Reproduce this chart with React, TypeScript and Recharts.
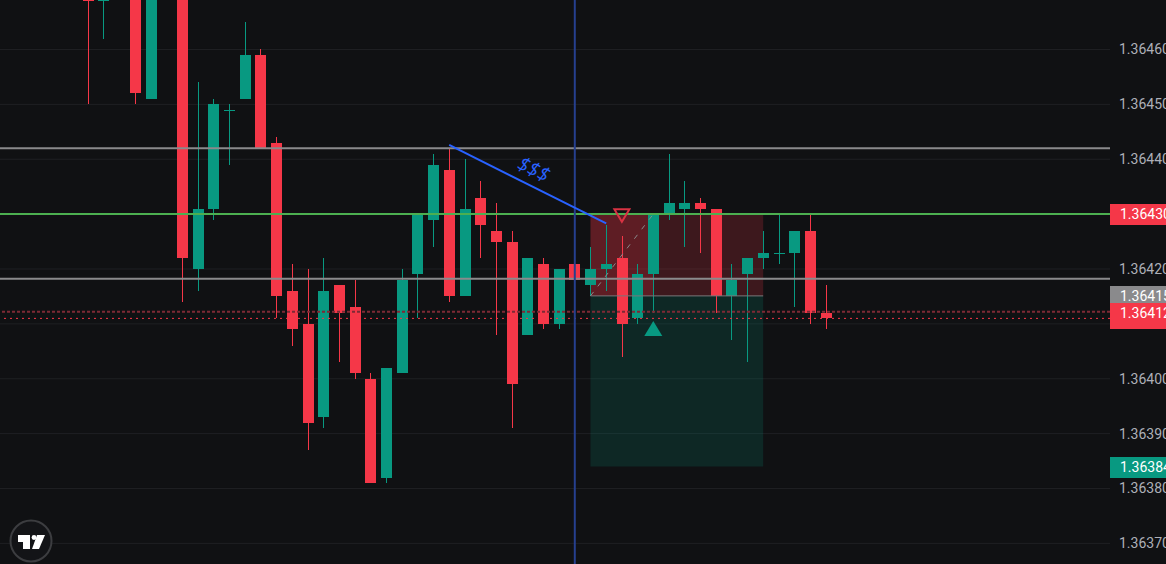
import React from 'react'
import { Bar, CartesianGrid, ComposedChart, ReferenceArea, ReferenceDot, ReferenceLine, XAxis, YAxis } from 'recharts'

const opens = [1.36476, 1.364688, 1.36486, 1.36478, 1.36451, 1.3648, 1.36488, 1.3642, 1.36431, 1.36449, 1.36451, 1.36459, 1.36443, 1.36416, 1.3641, 1.36393, 1.36417, 1.36413, 1.364, 1.36382, 1.36401, 1.36419, 1.36429, 1.36438, 1.36415, 1.36433, 1.36427, 1.36425, 1.36408, 1.36421, 1.3641, 1.36421, 1.36417, 1.3642, 1.36422, 1.36411, 1.36419, 1.3643, 1.36431, 1.36432, 1.36431, 1.36415, 1.36419, 1.36422, 1.36423, 1.36423, 1.36427, 1.36412]
const highs = [1.3648, 1.3648, 1.3649, 1.3648, 1.36483, 1.36492, 1.3649, 1.36454, 1.36451, 1.3645, 1.36465, 1.3646, 1.36444, 1.36421, 1.3642, 1.36422, 1.36417, 1.36418, 1.36401, 1.36402, 1.3642, 1.3643, 1.36441, 1.36442, 1.3644, 1.36436, 1.36432, 1.36427, 1.36422, 1.36422, 1.3642, 1.36422, 1.36424, 1.36428, 1.36426, 1.36421, 1.3643, 1.36441, 1.36436, 1.36433, 1.36431, 1.36421, 1.36422, 1.36427, 1.3643, 1.36427, 1.3643, 1.36417]
const lows = [1.3645, 1.36462, 1.36472, 1.3645, 1.36451, 1.36474, 1.36414, 1.36416, 1.36429, 1.36439, 1.36451, 1.36442, 1.36411, 1.36406, 1.36387, 1.36391, 1.36403, 1.364, 1.36381, 1.36381, 1.36401, 1.36411, 1.36424, 1.36414, 1.36415, 1.36422, 1.36408, 1.36391, 1.36408, 1.36409, 1.36409, 1.36413, 1.36415, 1.36416, 1.36404, 1.3641, 1.36412, 1.36429, 1.36424, 1.36423, 1.36412, 1.36407, 1.36403, 1.3642, 1.36421, 1.36413, 1.3641, 1.36409]
const closes = [1.364688, 1.36474, 1.36478, 1.36452, 1.3648, 1.36488, 1.36422, 1.36431, 1.3645, 1.36449, 1.36459, 1.36442, 1.36415, 1.36409, 1.36392, 1.36416, 1.36412, 1.36401, 1.36381, 1.36402, 1.36418, 1.3643, 1.36439, 1.36415, 1.36431, 1.36428, 1.36425, 1.36399, 1.36422, 1.3641, 1.3642, 1.36418, 1.3642, 1.36421, 1.3641, 1.36419, 1.3643, 1.36432, 1.36432, 1.36431, 1.36415, 1.36418, 1.36422, 1.36423, 1.36423, 1.36427, 1.36412, 1.36411]

const priceTicks = [1.3637, 1.3638, 1.3639, 1.364, 1.3641, 1.3642, 1.3643, 1.3644, 1.3645, 1.3646]
// these two sit behind price badges, only the grid line shows
const coveredTicks = [1.3641, 1.3643]
const timeTicks = [2, 12, 22, 32, 42, 52, 62]

const data = opens.map((open, i) => ({
  idx: i,
  open,
  high: highs[i],
  low: lows[i],
  close: closes[i],
  range: [lows[i], highs[i]],
}))

const RED = '#f53748'
const GREEN = '#089981'
const BG = '#101113'

const Candle = (props: any) => {
  const { x, y, width, height, payload } = props
  const top = Math.min(y, y + height)
  const h = Math.abs(height)
  const toY = (v: number) => top + ((payload.high - v) / (payload.high - payload.low)) * h
  const color = payload.close >= payload.open ? GREEN : RED
  const bodyTop = toY(Math.max(payload.open, payload.close))
  const bodyH = Math.max(toY(Math.min(payload.open, payload.close)) - bodyTop, 1)
  const mid = Math.round(x + width / 2)
  return (
    <g shapeRendering="crispEdges">
      <rect x={mid} y={top} width={1} height={h} fill={color} />
      <rect x={mid - 5} y={bodyTop} width={11} height={bodyH} fill={color} />
    </g>
  )
}

const Badge = ({ cy, text, fill }: any) => (
  <g>
    <rect x={1110} y={Math.round(cy) - 10} width={56} height={21} fill={fill} shapeRendering="crispEdges" />
    <text x={1120} y={cy + 5} fontSize={14} fontFamily="Roboto, sans-serif" fill="#fff">
      {text}
    </text>
  </g>
)

const App = () => {
  return (
    <div style={{ position: 'fixed', left: 0, top: 0, width: 1166, height: 564, background: BG, overflow: 'hidden' }}>
      <ComposedChart width={1166} height={564} data={data} margin={{ top: 0, right: 0, bottom: 0, left: 0 }}>
        <CartesianGrid stroke="#1f2023" strokeWidth={1} syncWithTicks />
        <XAxis
          type="number"
          dataKey="idx"
          domain={[-5.611, 65.09]}
          allowDataOverflow
          ticks={timeTicks}
          tick={false}
          axisLine={false}
          tickLine={false}
          height={0}
        />
        <YAxis
          orientation="right"
          width={56}
          domain={[1.3636624, 1.3646902]}
          allowDataOverflow
          ticks={priceTicks}
          interval={0}
          axisLine={false}
          tickLine={false}
          tickMargin={3}
          tickFormatter={(v: number) => (coveredTicks.includes(v) ? '' : v.toFixed(5))}
          tick={{ fill: '#aeb0b8', fontSize: 14, fontFamily: 'Roboto, sans-serif', textAnchor: 'start' }}
        />
        <ReferenceArea x1={32} x2={43} y1={1.3643} y2={1.364151} fill={RED} fillOpacity={0.2} stroke="none" />
        <ReferenceArea x1={32} x2={36} y1={1.3643} y2={1.364151} fill={RED} fillOpacity={0.18} stroke="none" />
        <ReferenceArea x1={32} x2={43} y1={1.364151} y2={1.36384} fill={GREEN} fillOpacity={0.17} stroke="none" />
        <ReferenceLine y={1.36442} stroke="#8a8a8c" strokeWidth={2} />
        <ReferenceLine y={1.364182} stroke="#8a8a8c" strokeWidth={2} />
        <ReferenceLine y={1.3643} stroke="#4caf50" strokeWidth={2} />
        <ReferenceLine y={1.364122} stroke="#7d2a35" strokeWidth={2} strokeDasharray="3 2" />
        <ReferenceLine y={1.36411} stroke={RED} strokeWidth={1} strokeDasharray="2 4" />
        <ReferenceLine x={31} stroke="#26408f" strokeWidth={2} />
        <ReferenceLine
          segment={[{ x: 32, y: 1.364151 }, { x: 43, y: 1.364151 }]}
          stroke="#77777a"
          strokeWidth={1}
        />
        <ReferenceLine
          segment={[{ x: 32, y: 1.364151 }, { x: 36, y: 1.3643 }]}
          stroke="#8a8a8c"
          strokeWidth={1}
          strokeDasharray="5 7"
        />
        <ReferenceLine
          segment={[{ x: 23, y: 1.364426 }, { x: 33, y: 1.364283 }]}
          stroke="#2962ff"
          strokeWidth={2}
        />
        <Bar dataKey="range" barSize={11} shape={Candle} isAnimationActive={false} />
        <ReferenceDot
          x={28.2}
          y={1.36437}
          ifOverflow="visible"
          shape={({ cx, cy }: any) => (
            <text
              x={cx}
              y={cy}
              fontSize={20}
              fontStyle="italic"
              fontFamily="'Open Sans', sans-serif"
              fill="#2962ff"
              textAnchor="middle"
              transform={`rotate(26 ${cx} ${cy})`}
            >
              $$$
            </text>
          )}
        />
        <ReferenceDot
          x={34}
          y={1.364298}
          ifOverflow="visible"
          shape={({ cx, cy }: any) => (
            <polygon
              points={`${cx - 7.5},${cy - 6} ${cx + 7.5},${cy - 6} ${cx},${cy + 6.5}`}
              fill="none"
              stroke="#d93343"
              strokeWidth={2}
            />
          )}
        />
        <ReferenceDot
          x={36}
          y={1.3640925}
          ifOverflow="visible"
          shape={({ cx, cy }: any) => (
            <polygon points={`${cx},${cy - 7} ${cx + 9},${cy + 8} ${cx - 9},${cy + 8}`} fill={GREEN} />
          )}
        />
        <ReferenceDot x={65} y={1.36415} ifOverflow="visible" shape={({ cy }: any) => <Badge cy={cy} text="1.36415" fill="#8a8a8c" />} />
        <ReferenceDot x={65} y={1.36411} ifOverflow="visible" shape={({ cy }: any) => <Badge cy={cy} text="1.36411" fill={RED} />} />
        <ReferenceDot x={65} y={1.36412} ifOverflow="visible" shape={({ cy }: any) => <Badge cy={cy} text="1.36412" fill={RED} />} />
        <ReferenceDot x={65} y={1.3643} ifOverflow="visible" shape={({ cy }: any) => <Badge cy={cy} text="1.36430" fill={RED} />} />
        <ReferenceDot x={65} y={1.36384} ifOverflow="visible" shape={({ cy }: any) => <Badge cy={cy} text="1.36384" fill={GREEN} />} />
      </ComposedChart>
      <svg width={54} height={54} style={{ position: 'absolute', left: 4, top: 514 }}>
        <circle cx={27} cy={27} r={20.5} fill="#131417" stroke="#3c3d40" strokeWidth={2} />
        <path d="M14 21H26V35H19V28H14Z" fill="#fff" />
        <circle cx={30} cy={23.5} r={2.4} fill="#fff" />
        <path d="M33 21H41L35 35H28Z" fill="#fff" />
      </svg>
    </div>
  )
}

export default App
